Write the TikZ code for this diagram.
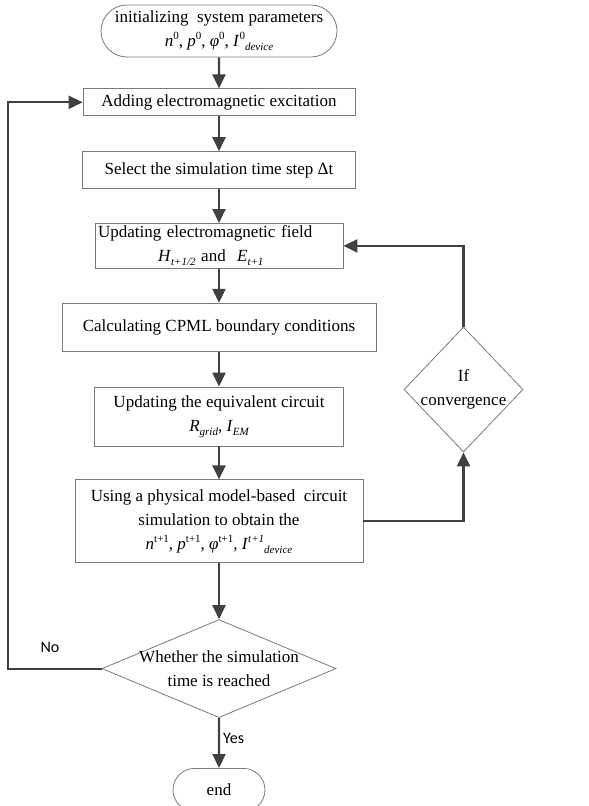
\documentclass[tikz,border=0pt]{standalone}
\usepackage{fontspec}
\setmainfont{Liberation Serif}
\newfontfamily\yesno{Carlito}
\usetikzlibrary{arrows.meta,positioning,shapes.geometric,shapes.misc}

\definecolor{linegray}{HTML}{404040}
\definecolor{boxgray}{HTML}{7A7A7A}

% raised / lowered small indices
\newcommand{\hi}[1]{\raisebox{7pt}{\fontsize{11}{11}\selectfont #1}}
\newcommand{\lo}[1]{\raisebox{-4pt}{\fontsize{11}{11}\selectfont\itshape #1}}

\begin{document}
\begin{tikzpicture}[
            x=1pt, y=-1pt,
            font=\fontsize{17}{24}\selectfont,
            proc/.style={draw=boxgray, line width=0.8pt,
            inner sep=2pt, align=center},
            term/.style={rounded rectangle, draw=boxgray, line width=0.8pt,
            inner sep=2pt, align=center},
            dec/.style={diamond, draw=boxgray, line width=0.8pt, inner sep=0pt},
            flow/.style={-{Triangle[length=14pt,width=13pt]}, line width=2.2pt, draw=linegray},
            tag/.style={font=\yesno\fontsize{16}{16}\selectfont, inner sep=0pt}
        ]
\useasboundingbox (0,0) rectangle (589,806);
% main column
            \node[term, minimum width=240pt, minimum height=52pt] (init) at (219,31)
                {initializing\ \ system parameters\\
                 \textit{n}\hi{0}, \textit{p}\hi{0}, \textit{φ}\hi{0}, \textit{I}\hi{0}\lo{device}};
            \node[proc, below=31pt of init, minimum width=272pt, minimum height=27pt] (excite)
                {Adding electromagnetic excitation};
            \node[proc, below=35pt of excite, minimum width=273pt, minimum height=37pt] (tstep)
                {Select the simulation time step Δt};
            \node[proc, below=34pt of tstep, minimum width=248pt, minimum height=45pt,
                  inner xsep=3pt, text width=242pt, align=left] (field)
                {Updating electromagnetic field\\
                 \hspace*{60pt}\textit{H}\lo{t+1/2} and \ \textit{E}\lo{t+1}};
            \node[proc, below=34pt of field, minimum width=314pt, minimum height=48pt] (cpml)
                {Calculating CPML boundary conditions};
            \node[proc, below=35pt of cpml, minimum width=249pt, minimum height=59pt] (circ)
                {Updating the equivalent circuit\\
                 \textit{R}\lo{grid}, \textit{I}\lo{EM}};
            \node[proc, below=33pt of circ, minimum width=288pt, minimum height=83pt] (physim)
                {Using a physical model-based\ \ circuit\\
                 simulation to obtain the\\
                 \textit{n}\hi{t+1}, \textit{p}\hi{t+1}, \textit{φ}\hi{t+1}, \textit{I}\hi{\itshape t+1}\lo{device}};
            \node[dec, below=56pt of physim, minimum width=234pt, minimum height=98pt,
                  label={[align=center]center:Whether the simulation\\time is reached}] (reach) {};
            \node[term, below=50pt of reach, minimum width=96pt, minimum height=43pt] (fin) {end};
% side check
            \node[dec, minimum width=119pt, minimum height=125pt,
                  label={[align=center]center:If\\convergence}] (conv) at (463.5,389.5) {};
            \coordinate (lft) at (8,0);
% labels
            \node[tag] (no) at (50,647) {No};
            \node[tag, anchor=west] (yes) at (223,738) {Yes};
% flow down
            \draw[flow] (init) -- (excite);
            \draw[flow] (excite) -- (tstep);
            \draw[flow] (tstep) -- (field);
            \draw[flow] (field) -- (cpml);
            \draw[flow] (cpml) -- (circ);
            \draw[flow] (circ) -- (physim);
            \draw[flow] (physim) -- (reach);
            \draw[flow] (reach) -- (fin);
% loops
            \draw[flow] (physim.east) -| (conv.south);
            \draw[flow] (conv.north) |- (field.east);
            \draw[flow] (reach.west) -- (reach.west -| lft) |- (excite.west);
        \end{tikzpicture}
\end{document}
